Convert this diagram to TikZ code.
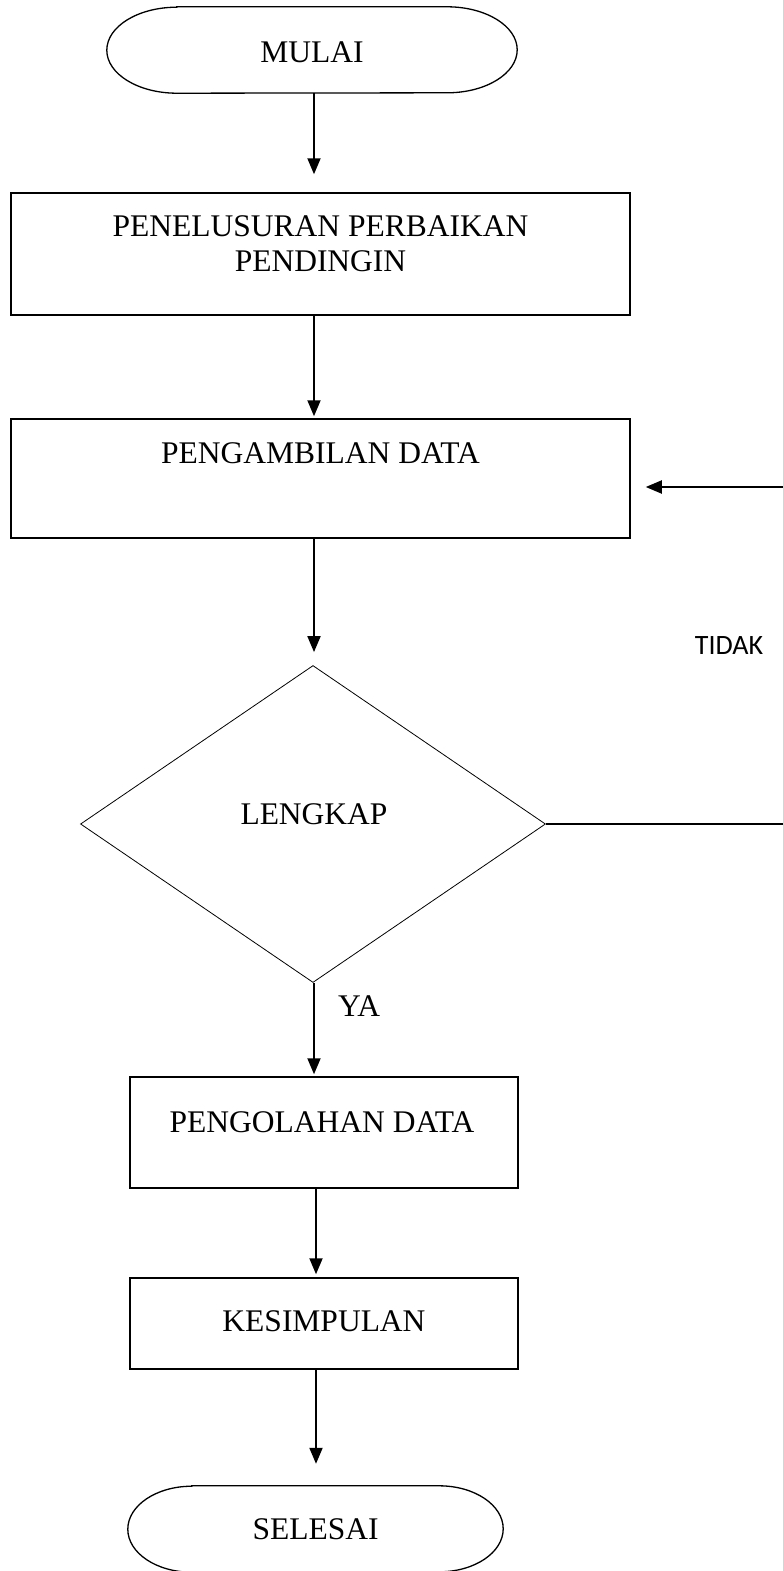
\documentclass[tikz,border=0pt]{standalone}
\usepackage{fontspec}
\setmainfont{Liberation Serif}
\newfontfamily\tidakfont{Carlito}
\usetikzlibrary{arrows.meta,shapes.geometric,calc}
\begin{document}
\begin{tikzpicture}[x=1pt,y=-1pt,
  txt/.style={font=\fontsize{31.5}{35}\selectfont, inner sep=0pt, align=center},
  boxnode/.style={draw, line width=1.5pt, inner sep=0pt},
  ghost/.style={inner sep=0pt},
  arr/.style={line width=1.9pt, -{Triangle[length=16pt,width=13pt]}},
  plain/.style={line width=1.9pt}
]
\useasboundingbox (0,0) rectangle (782,1571);

% Start terminal
\node[ghost, minimum width=410pt, minimum height=86pt] (start) at (312,50) {};
\draw[line width=1.3pt] ([xshift=70pt]start.north west) -- ([xshift=-70pt]start.north east)
  arc[start angle=90,end angle=-90,x radius=70pt,y radius=43pt]
  -- ([xshift=70pt]start.south west)
  arc[start angle=270,end angle=90,x radius=70pt,y radius=43pt] -- cycle;
\node[txt] (starttxt) at (312,52) {MULAI};

% Box 1
\node[boxnode, minimum width=619pt, minimum height=122pt] (b1) at (320.5,254) {};
\node[txt] (b1txt) at (320.5,244) {PENELUSURAN PERBAIKAN\\PENDINGIN};

% Box 2
\node[boxnode, minimum width=619pt, minimum height=119pt] (b2) at (320.5,478.5) {};
\node[txt] (b2txt) at (320.5,453) {PENGAMBILAN DATA};

% Decision
\node[draw, line width=0.8pt, diamond, minimum width=465pt, minimum height=317pt, inner sep=0pt, aspect=1.47] (d) at (313,824) {};
\node[txt] (dtxt) at (314,814) {LENGKAP};

% Box 3
\node[boxnode, minimum width=388pt, minimum height=111pt] (b3) at (324,1132.5) {};
\node[txt] (b3txt) at (322,1122) {PENGOLAHAN DATA};

% Box 4
\node[boxnode, minimum width=388pt, minimum height=91pt] (b4) at (324,1323.5) {};
\node[txt] (b4txt) at (324,1321) {KESIMPULAN};

% End terminal
\node[ghost, minimum width=375pt, minimum height=86pt] (end) at (315.5,1529) {};
\draw[line width=1.3pt] ([xshift=64pt]end.north west) -- ([xshift=-64pt]end.north east)
  arc[start angle=90,end angle=-90,x radius=64pt,y radius=43pt]
  -- ([xshift=64pt]end.south west)
  arc[start angle=270,end angle=90,x radius=64pt,y radius=43pt] -- cycle;
\node[txt] (endtxt) at (315.5,1529) {SELESAI};

% Labels
\node[inner sep=0pt, font=\tidakfont\fontsize{28}{32}\selectfont] (tidak) at (729,646) {TIDAK};
\node[txt] (ya) at (359,1006) {YA};

% Connectors
\coordinate (c1) at (314,93);
\draw[arr] (c1) -- ([yshift=18pt]c1 |- b1.north);
\draw[arr] (c1 |- b1.south) -- ([yshift=2pt]c1 |- b2.north);
\draw[arr] (c1 |- b2.south) -- ([yshift=13pt]c1 |- d.north);
\draw[arr] (c1 |- d.south) -- ([yshift=2pt]c1 |- b3.north);
\coordinate (c2) at (316,1188);
\draw[arr] (c2 |- b3.south) -- ([yshift=3pt]c2 |- b4.north);
\draw[arr] (c2 |- b4.south) -- ([yshift=22pt]c2 |- end.north);

% Loop back
\coordinate (rloop) at (795,825);
\coordinate (tip) at ([xshift=15pt,yshift=-8.5pt]b2.east);
\draw[plain] (d.east) -- (d.east -| rloop) -- (rloop |- tip);
\draw[arr] (rloop |- tip) -- (tip);
\end{tikzpicture}
\end{document}
